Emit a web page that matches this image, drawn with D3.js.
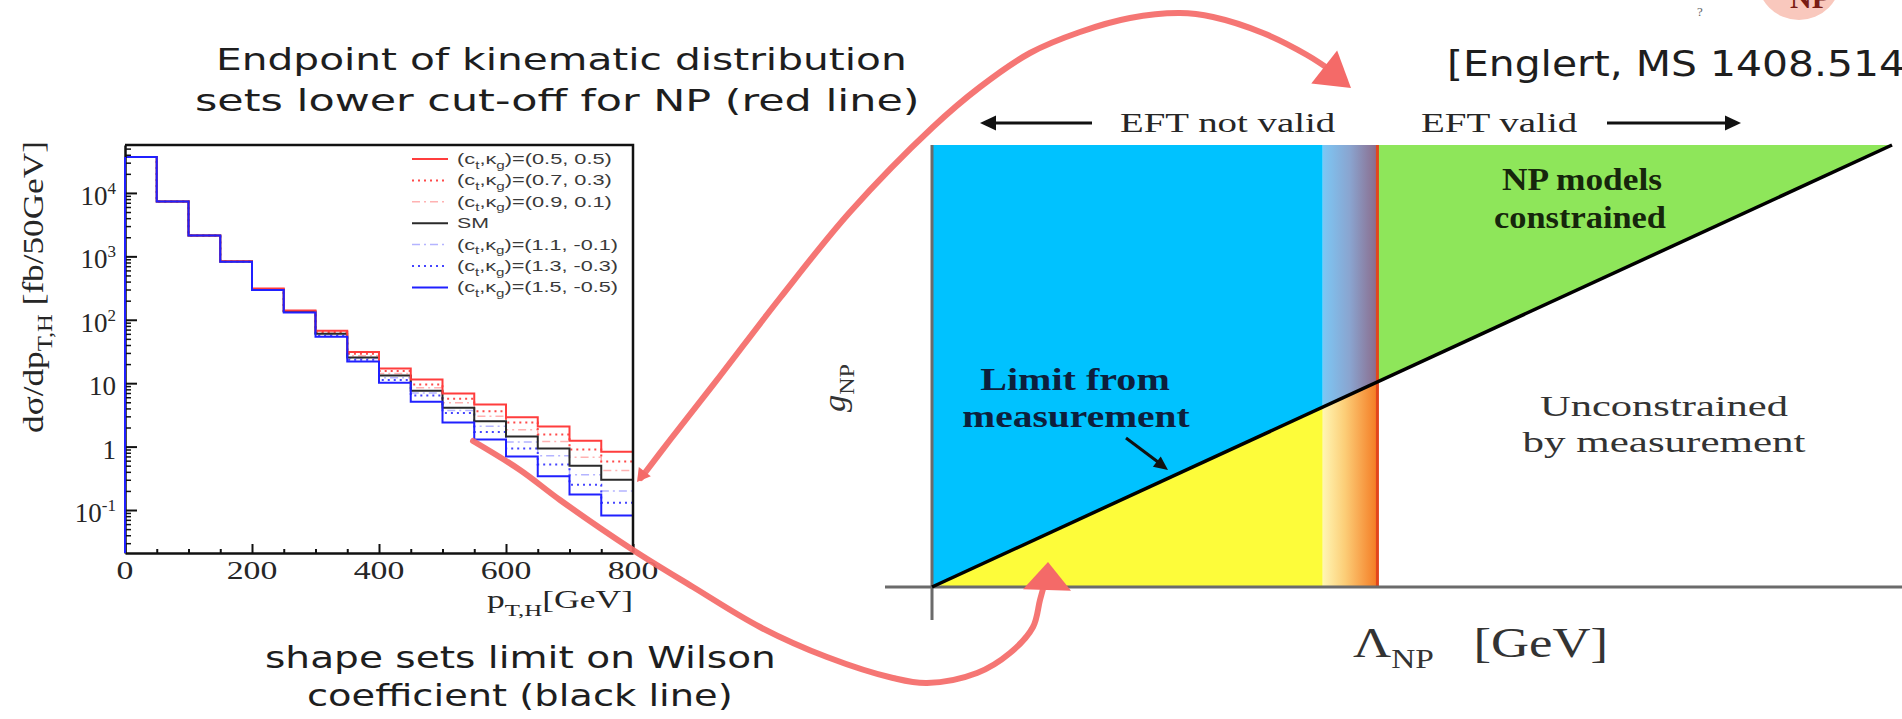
<!DOCTYPE html>
<html>
<head>
<meta charset="utf-8">
<script src="https://cdn.jsdelivr.net/npm/d3@7"></script>
<style>
  body { margin: 0; background: #fff; overflow: hidden; }
  svg { display: block; }
  .hand { font-family: "DejaVu Sans", sans-serif; fill: #1e1e1e; }
  .root { font-family: "Liberation Serif", "DejaVu Serif", serif; fill: #262626; }
  .leg  { font-family: "Liberation Sans", Arial, sans-serif; fill: #3a3a3a; }
</style>
</head>
<body>
<script>
"use strict";

// ---- left panel: dsigma/dpT,H per 50 GeV bin, one list per (c_t, kappa_g) point ----
var binEdges = [0, 50, 100, 150, 200, 250, 300, 350, 400, 450, 500, 550, 600, 650, 700, 750, 800];
var legendLabels = ["(0.5, 0.5)", "(0.7, 0.3)", "(0.9, 0.1)", "SM", "(1.1, -0.1)", "(1.3, -0.3)", "(1.5, -0.5)"];
var sigma_05_05  = [37000, 7300, 2130, 840, 310, 140, 67, 31, 17, 11.4, 6.9, 4.6, 2.9, 2.07, 1.24, 0.83];
var sigma_07_03  = [37000, 7300, 2130, 836, 306, 138, 64, 29, 15.5, 9.5, 5.7, 3.6, 2.4, 1.55, 0.90, 0.58];
var sigma_09_01  = [37000, 7300, 2130, 832, 302, 136, 62, 27, 14.2, 8.5, 4.9, 3.0, 1.85, 1.2, 0.68, 0.42];
var sigma_SM     = [37000, 7300, 2130, 830, 300, 135, 60, 25.5, 13.2, 7.6, 4.1, 2.5, 1.44, 0.93, 0.50, 0.30];
var sigma_11_m01 = [37000, 7300, 2130, 828, 298, 133, 58, 24.5, 12.2, 7.0, 3.7, 2.1, 1.18, 0.72, 0.36, 0.20];
var sigma_13_m03 = [37000, 7300, 2130, 826, 296, 132, 56, 23.5, 11.2, 6.4, 3.4, 1.7, 0.93, 0.52, 0.25, 0.13];
var sigma_15_m05 = [37000, 7300, 2130, 825, 295, 130, 54, 22, 10.2, 5.1, 2.4, 1.29, 0.70, 0.34, 0.175, 0.082];

var xTickValues = [0, 200, 400, 600, 800];
var xTickLabels = ["0", "200", "400", "600", "800"];
var yTickValues = [0.1, 1, 10, 100, 1000, 10000];
var yTickBase   = ["10", "1", "10", "10", "10", "10"];
var yTickExp    = ["-1", "", "", "2", "3", "4"];

// ---- right panel: EFT validity sketch, arbitrary units ----
var lambdaRange = [0, 1];
var gRange = [0, 1];
var limitLine = [[0, 0], [1, 1]];   // measured limit on g_NP vs Lambda_NP
var lambdaFade = 0.407;             // kinematic endpoint starts to blur
var lambdaCut = 0.464;              // lower cut-off for NP (red line)

var svg = d3.select("body").append("svg")
    .attr("width", 1902)
    .attr("height", 719);

// helpers: text placed in its own group, stretched to the width seen in the slide
function place(parent, x, y, cls, anchor, rot) {
  var g = parent.append("g")
      .attr("transform", "translate(" + x + "," + y + ")" + (rot ? " rotate(" + rot + ")" : ""));
  return g.append("text").attr("class", cls).attr("text-anchor", anchor || "start");
}
function fit(t, width) {
  var w = t.node().getBBox().width;
  if (w > 0) t.attr("transform", "scale(" + (width / w).toFixed(3) + ",1)");
  return t;
}
function sub(t, s, size) {
  t.append("tspan").attr("dy", size * 0.3).attr("font-size", size * 0.7).text(s);
  return t.append("tspan").attr("dy", -size * 0.3);
}
function head(parent, tip, angle, len, width, fill) {
  var a = angle * Math.PI / 180, ux = Math.cos(a), uy = Math.sin(a);
  var bx = tip[0] - len * ux, by = tip[1] - len * uy;
  var pts = [tip, [bx - uy * width / 2, by + ux * width / 2], [bx + uy * width / 2, by - ux * width / 2]];
  parent.append("polygon").attr("points", pts.map(function (p) { return p.join(","); }).join(" ")).attr("fill", fill);
}

/*
  left panel: ROOT style histogram
*/
var hx = d3.scaleLinear().domain([0, 800]).range([125, 633]);
var hy = d3.scaleLog().domain([0.021, 57000]).range([553, 145]);

var hist = svg.append("g").attr("class", "hist");

hist.append("clipPath").attr("id", "plotclip")
  .append("rect")
    .attr("x", hx.range()[0]).attr("y", hy.range()[1])
    .attr("width", hx.range()[1] - hx.range()[0])
    .attr("height", hy.range()[0] - hy.range()[1]);

var series = [
  { label: legendLabels[0], values: sigma_05_05,  color: "#ff3d3d", dash: null,      width: 2 },
  { label: legendLabels[1], values: sigma_07_03,  color: "#ff4a4a", dash: "2,4",     width: 2 },
  { label: legendLabels[2], values: sigma_09_01,  color: "#ffb2b2", dash: "8,4,2,4", width: 1.5 },
  { label: legendLabels[3], values: sigma_SM,     color: "#2a2a2a", dash: null,      width: 2 },
  { label: legendLabels[4], values: sigma_11_m01, color: "#b4b4ff", dash: "8,4,2,4", width: 1.5 },
  { label: legendLabels[5], values: sigma_13_m03, color: "#4545ff", dash: "2,4",     width: 2 },
  { label: legendLabels[6], values: sigma_15_m05, color: "#2020ff", dash: null,      width: 2 }
];
var drawOrder = [2, 4, 1, 5, 3, 0, 6];

var step = d3.line()
    .x(function (d) { return hx(d[0]); })
    .y(function (d) { return hy(d[1]); })
    .curve(d3.curveStepAfter);

function stepPoints(vals) {
  var pts = [[binEdges[0], hy.domain()[0]]];
  vals.forEach(function (v, i) { pts.push([binEdges[i], v]); });
  pts.push([binEdges[binEdges.length - 1], vals[vals.length - 1]]);
  return pts;
}

var lines = hist.append("g").attr("clip-path", "url(#plotclip)");
drawOrder.forEach(function (i) {
  var s = series[i];
  lines.append("path")
    .attr("d", step(stepPoints(s.values)))
    .attr("fill", "none")
    .attr("stroke", s.color)
    .attr("stroke-width", s.width)
    .attr("stroke-dasharray", s.dash);
});

// axes, ticks pointing inward
function isDecade(v) { var l = Math.log10(v); return Math.abs(l - Math.round(l)) < 1e-6; }

hist.append("g")
    .attr("transform", "translate(" + hx(0) + ",0)")
    .call(d3.axisLeft(hy).tickValues(hy.ticks().filter(function (v) { return !isDecade(v); }))
      .tickSize(-6).tickSizeOuter(0).tickFormat(""))
    .call(function (g) { g.selectAll("line").attr("stroke", "#111").attr("stroke-width", 1.5); g.select(".domain").remove(); });

hist.append("g")
    .attr("transform", "translate(" + hx(0) + ",0)")
    .call(d3.axisLeft(hy).tickValues(yTickValues).tickSize(-12).tickSizeOuter(0).tickFormat(""))
    .call(function (g) {
      g.selectAll("line").attr("stroke", "#111").attr("stroke-width", 2);
      g.select(".domain").attr("stroke", "#111").attr("stroke-width", 2.5);
    });

hist.append("g")
    .attr("transform", "translate(0," + hy.range()[0] + ")")
    .call(d3.axisBottom(hx).tickValues(d3.range(50, 800, 50).filter(function (v) { return xTickValues.indexOf(v) < 0; }))
      .tickSize(-4).tickSizeOuter(0).tickFormat(""))
    .call(function (g) { g.selectAll("line").attr("stroke", "#111").attr("stroke-width", 2); g.select(".domain").remove(); });

hist.append("g")
    .attr("transform", "translate(0," + hy.range()[0] + ")")
    .call(d3.axisBottom(hx).tickValues(xTickValues).tickSize(-9).tickSizeOuter(0).tickFormat(""))
    .call(function (g) {
      g.selectAll("line").attr("stroke", "#111").attr("stroke-width", 2);
      g.select(".domain").attr("stroke", "#111").attr("stroke-width", 2.5);
    });

// the blue curve runs up the left axis from the first bin
hist.append("line")
    .attr("x1", hx(0)).attr("x2", hx(0))
    .attr("y1", hy.range()[0]).attr("y2", hy(sigma_15_m05[0]))
    .attr("stroke", "#2020ff").attr("stroke-width", 2);

// frame (top, right)
hist.append("path")
    .attr("d", "M" + hx(0) + "," + hy.range()[1] + "H" + hx(800) + "V" + hy.range()[0])
    .attr("fill", "none").attr("stroke", "#111").attr("stroke-width", 2.5);

// tick labels
yTickValues.forEach(function (v, i) {
  var t = place(hist, hx(0) - 9, hy(v) + 12, "root", "end").attr("font-size", 27);
  t.append("tspan").text(yTickBase[i]);
  if (yTickExp[i]) t.append("tspan").attr("dy", -11).attr("font-size", 17).text(yTickExp[i]);
});
xTickValues.forEach(function (v, i) {
  var t = place(hist, hx(v), hy.range()[0] + 26, "root", "middle").attr("font-size", 26).text(xTickLabels[i]);
  t.attr("transform", "scale(1.3,1)");
});

// axis titles
var yt = place(hist, 43, 287, "root", "middle", -90).attr("font-size", 30);
yt.append("tspan").text("dσ/dp");
sub(yt, "T,H", 30).text(" [fb/50GeV]");
fit(yt, 292);

var xt = place(hist, 633, 608, "root", "end").attr("font-size", 25);
xt.append("tspan").text("p");
sub(xt, "T,H", 25).text("[GeV]");
fit(xt, 146);

// legend
var legend = hist.append("g").attr("class", "legend");
series.forEach(function (s, i) {
  var y = 159 + i * 21.4;
  legend.append("line")
    .attr("x1", 412).attr("x2", 448).attr("y1", y).attr("y2", y)
    .attr("stroke", s.color).attr("stroke-width", s.width).attr("stroke-dasharray", s.dash);
  var t = place(legend, 457, y + 5, "leg").attr("font-size", 15);
  if (s.label === "SM") {
    t.text("SM");
    fit(t, 32);
  } else {
    t.append("tspan").text("(c");
    sub(t, "t", 15).text(",κ");
    sub(t, "g", 15).text(")=" + s.label);
    fit(t, s.label.indexOf("-") >= 0 ? 161 : 155);
  }
});

/*
  right panel: EFT validity sketch
*/
var dx = d3.scaleLinear().domain(lambdaRange).range([932, 1892]);
var dy = d3.scaleLinear().domain(gRange).range([587, 145]);
var slope = (limitLine[1][1] - limitLine[0][1]) / (limitLine[1][0] - limitLine[0][0]);
function lim(l) { return limitLine[0][1] + (l - limitLine[0][0]) * slope; }

var sketch = svg.append("g").attr("class", "sketch");
var poly = d3.line().x(function (d) { return dx(d[0]); }).y(function (d) { return dy(d[1]); });

var defs = svg.append("defs");
function grad(id, stops) {
  var lg = defs.append("linearGradient").attr("id", id)
      .attr("gradientUnits", "userSpaceOnUse")
      .attr("x1", dx(lambdaFade)).attr("x2", dx(lambdaCut)).attr("y1", 0).attr("y2", 0);
  stops.forEach(function (s) { lg.append("stop").attr("offset", s[0]).attr("stop-color", s[1]); });
}
grad("fadeBlue", [[0, "#7cc7f5"], [0.5, "#8aa4cf"], [1, "#8b6a8a"]]);
grad("fadeYellow", [[0, "#fff6b4"], [0.4, "#fcce78"], [1, "#f47a22"]]);

var fillTop = 1;
sketch.append("path").attr("d", poly([[0, lim(0)], [0, fillTop], [lambdaFade, fillTop], [lambdaFade, lim(lambdaFade)]]) + "Z")
    .attr("fill", "#00c2ff");
sketch.append("path").attr("d", poly([[0, 0], [0, lim(0)], [lambdaFade, lim(lambdaFade)], [lambdaFade, 0]]) + "Z")
    .attr("fill", "#fdfc3a");
sketch.append("path").attr("d", poly([[lambdaFade, lim(lambdaFade)], [lambdaFade, fillTop], [lambdaCut, fillTop], [lambdaCut, lim(lambdaCut)]]) + "Z")
    .attr("fill", "url(#fadeBlue)");
sketch.append("path").attr("d", poly([[lambdaFade, 0], [lambdaFade, lim(lambdaFade)], [lambdaCut, lim(lambdaCut)], [lambdaCut, 0]]) + "Z")
    .attr("fill", "url(#fadeYellow)");
sketch.append("path").attr("d", poly([[lambdaCut, lim(lambdaCut)], [lambdaCut, fillTop], [1, fillTop]]) + "Z")
    .attr("fill", "#8ee65a");

// red cut-off line
sketch.append("line")
    .attr("x1", dx(lambdaCut)).attr("x2", dx(lambdaCut))
    .attr("y1", dy(0)).attr("y2", dy(fillTop))
    .attr("stroke", "#e2451c").attr("stroke-width", 3);

// axes of the sketch
sketch.append("line")
    .attr("x1", dx.range()[0] - 47).attr("x2", 1902)
    .attr("y1", dy(0)).attr("y2", dy(0))
    .attr("stroke", "#6b6b6b").attr("stroke-width", 3);
sketch.append("line")
    .attr("x1", dx(0)).attr("x2", dx(0))
    .attr("y1", dy(fillTop)).attr("y2", dy(0) + 33)
    .attr("stroke", "#6b6b6b").attr("stroke-width", 3);

// limit from measurement
sketch.append("path").attr("d", poly(limitLine))
    .attr("stroke", "#000").attr("stroke-width", 3.5).attr("fill", "none");

// labels of the sketch
var t;
t = place(sketch, 1120, 132, "root").attr("font-size", 27).text("EFT not valid"); fit(t, 216);
t = place(sketch, 1421, 132, "root").attr("font-size", 27).text("EFT valid"); fit(t, 157);
sketch.append("line").attr("x1", 995).attr("x2", 1092).attr("y1", 123).attr("y2", 123)
    .attr("stroke", "#111").attr("stroke-width", 3);
head(sketch, [980, 123], 180, 16, 15, "#111");
sketch.append("line").attr("x1", 1607).attr("x2", 1727).attr("y1", 123).attr("y2", 123)
    .attr("stroke", "#111").attr("stroke-width", 3);
head(sketch, [1741, 123], 0, 16, 15, "#111");

t = place(sketch, 1582, 190, "root", "middle").attr("font-size", 31).attr("font-weight", "bold").style("fill", "#16260c").text("NP models"); fit(t, 160);
t = place(sketch, 1580, 228, "root", "middle").attr("font-size", 31).attr("font-weight", "bold").style("fill", "#16260c").text("constrained"); fit(t, 172);

t = place(sketch, 1075, 390, "root", "middle").attr("font-size", 32).attr("font-weight", "bold").style("fill", "#0d1f3c").text("Limit from"); fit(t, 190);
t = place(sketch, 1076, 427, "root", "middle").attr("font-size", 32).attr("font-weight", "bold").style("fill", "#0d1f3c").text("measurement"); fit(t, 228);
sketch.append("line").attr("x1", 1126).attr("x2", 1158).attr("y1", 438).attr("y2", 462)
    .attr("stroke", "#111").attr("stroke-width", 3);
head(sketch, [1168, 470], 37, 14, 13, "#111");

t = place(sketch, 1664, 416, "root", "middle").attr("font-size", 30).style("fill", "#333").text("Unconstrained"); fit(t, 248);
t = place(sketch, 1664, 452, "root", "middle").attr("font-size", 30).style("fill", "#333").text("by measurement"); fit(t, 284);

var gl = place(sketch, 845, 388, "root", "middle", -90).attr("font-size", 31).style("fill", "#333");
gl.append("tspan").attr("font-style", "italic").text("g");
sub(gl, "NP", 31);
fit(gl, 48);

var ll = place(sketch, 1353, 657, "root").attr("font-size", 42).style("fill", "#333");
ll.append("tspan").text("Λ");
sub(ll, "NP", 38).text("\u00a0\u00a0\u00a0[GeV]");
fit(ll, 255);

/*
  slide annotations
*/
var notes = svg.append("g").attr("class", "notes");
t = place(notes, 216, 70, "hand").attr("font-size", 31).text("Endpoint of kinematic distribution"); fit(t, 691);
t = place(notes, 195, 111, "hand").attr("font-size", 31).text("sets lower cut-off for NP (red line)"); fit(t, 725);
t = place(notes, 265, 668, "hand").attr("font-size", 31).text("shape sets limit on Wilson"); fit(t, 511);
t = place(notes, 307, 706, "hand").attr("font-size", 31).text("coefficient (black line)"); fit(t, 426);
t = place(notes, 1447, 76, "hand").attr("font-size", 36).text("[Englert, MS 1408.514"); fit(t, 458);
t.append("tspan").text("7]");

notes.append("circle").attr("cx", 1799).attr("cy", -22).attr("r", 42).attr("fill", "#f9c8bd");
place(notes, 1810, 8, "root", "middle").attr("font-size", 30).attr("font-weight", "bold").style("fill", "#7a1c14").text("NP");
place(notes, 1700, 16, "root", "middle").attr("font-size", 13).style("fill", "#666").text("?");

// hand-drawn red arrows
var pen = d3.line().curve(d3.curveCatmullRom.alpha(0.5));
var red = "#f46a68";
var arrowUp = [[641, 478], [670, 440], [720, 376], [780, 298], [850, 212], [933, 127], [980, 87], [1030, 53],
               [1080, 32], [1130, 18], [1180, 13], [1213, 17], [1263, 33], [1307, 55], [1333, 72]];
var arrowDown = [[473, 441], [520, 470], [560, 500], [633, 550], [693, 587], [760, 627], [827, 657], [893, 678],
                 [927, 683], [977, 673], [1010, 653], [1033, 627], [1040, 600], [1045, 582]];
[arrowUp, arrowDown].forEach(function (pts) {
  notes.append("path").attr("d", pen(pts))
    .attr("fill", "none").attr("stroke", red).attr("stroke-width", 6)
    .attr("stroke-linecap", "round").attr("opacity", 0.92);
});
head(notes, [1351, 88], 38, 34, 42, red);
head(notes, [1048, 562], -88, 28, 48, red);
head(notes, [637, 482], 127, 13, 15, red);
</script>
</body>
</html>
